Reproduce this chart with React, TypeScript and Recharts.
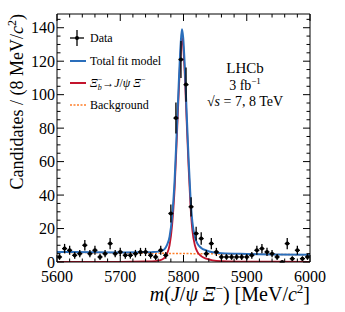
import { ComposedChart, Line, Scatter, ErrorBar, XAxis, YAxis } from "recharts";

// binned data (8 MeV bins)
const binCenters = [
  5604, 5612, 5620, 5628, 5636, 5644, 5652, 5660, 5668, 5676,
  5684, 5692, 5700, 5708, 5716, 5724, 5732, 5740, 5748, 5756,
  5764, 5772, 5780, 5788, 5796, 5804, 5812, 5820, 5828, 5836,
  5844, 5852, 5860, 5868, 5876, 5884, 5892, 5900, 5908, 5916,
  5924, 5932, 5940, 5948, 5956, 5964, 5972, 5980, 5988, 5996,
];
const counts = [
  3, 8, 7, 4, 5, 10, 5, 7, 3, 5,
  11, 5, 6, 4, 4, 5, 6, 6, 4, 3,
  7, 4, 29, 86, 121, 106, 33, 17, 14, 5,
  11, 6, 3, 3, 3, 3, 3, 3, 4, 7,
  8, 6, 5, 3, 0, 11, 2, 7, 2, 3,
];

// fit curves
const curveX = [
  5600, 5700, 5740, 5750, 5760, 5766, 5770, 5774, 5778, 5782, 5786, 5790, 5793, 5795.5,
  5797.5, 5799.5, 5802, 5805, 5808, 5811, 5814, 5818, 5822, 5828, 5836, 5846, 5860, 5900, 6000,
];
const signalY = [
  0, 0.1, 0.3, 0.4, 0.8, 1.5, 2.5, 5, 10, 22, 44, 79, 106, 125,
  134, 129, 112, 84, 57, 34, 19, 10, 6, 3.5, 2, 1, 0.5, 0.2, 0.1,
];
const totalY = [
  6.0, 5.7, 5.8, 5.9, 6.2, 6.8, 7.7, 10.2, 15.1, 27.1, 49.1, 84.1, 111.1, 130.1,
  139.1, 134.1, 117.1, 89.1, 62.0, 39.0, 24.0, 15.0, 11.0, 8.4, 6.9, 5.8, 5.2, 4.8, 4.4,
];
const bgX = [5600, 6000];
const bgY = [5.8, 4.3];

const xTicks = [
  5600, 5620, 5640, 5660, 5680, 5700, 5720, 5740, 5760, 5780, 5800, 5820, 5840, 5860, 5880,
  5900, 5920, 5940, 5960, 5980, 6000,
];
const yTicks = [
  0, 5, 10, 15, 20, 25, 30, 35, 40, 45, 50, 55, 60, 65, 70, 75, 80, 85, 90, 95, 100, 105,
  110, 115, 120, 125, 130, 135, 140, 145,
];

const W = 345;
const H = 312;
const FONT = "'Liberation Serif', 'DejaVu Serif', serif";
const BLUE = "#2a6ebb";
const RED = "#c3142d";
const ORANGE = "#ff7f2a";

const points = binCenters.map((x, i) => ({
  x,
  y: counts[i],
  err: Math.sqrt(counts[i]),
  xerr: 4,
}));
const signal = curveX.map((x, i) => ({ x, y: signalY[i] }));
const total = curveX.map((x, i) => ({ x, y: totalY[i] }));
const background = bgX.map((x, i) => ({ x, y: bgY[i] }));

type TickProps = { x?: number; y?: number; payload?: { value?: number } };

function BottomTick({ x = 0, y = 0, payload }: TickProps) {
  const v = payload?.value ?? 0;
  const major = v % 100 === 0;
  return (
    <g>
      <line x1={x} y1={y} x2={x} y2={y - (major ? 7 : 3.5)} stroke="#000" strokeWidth={1} />
      {major && (
        <text x={x} y={y + 20} textAnchor="middle" fontFamily={FONT} fontSize={16} fill="#000">
          {v}
        </text>
      )}
    </g>
  );
}

function TopTick({ x = 0, y = 0, payload }: TickProps) {
  const v = payload?.value ?? 0;
  const major = v % 100 === 0;
  return <line x1={x} y1={y} x2={x} y2={y + (major ? 7 : 3.5)} stroke="#000" strokeWidth={1} />;
}

function LeftTick({ x = 0, y = 0, payload }: TickProps) {
  const v = payload?.value ?? 0;
  const major = v % 20 === 0;
  return (
    <g>
      <line x1={x} y1={y} x2={x + (major ? 7 : 3.5)} y2={y} stroke="#000" strokeWidth={1} />
      {major && (
        <text x={x - 2} y={y + 5.5} textAnchor="end" fontFamily={FONT} fontSize={16} fill="#000">
          {v}
        </text>
      )}
    </g>
  );
}

function RightTick({ x = 0, y = 0, payload }: TickProps) {
  const v = payload?.value ?? 0;
  const major = v % 20 === 0;
  return <line x1={x} y1={y} x2={x - (major ? 7 : 3.5)} y2={y} stroke="#000" strokeWidth={1} />;
}

function DataPoint(props: { cx?: number; cy?: number }) {
  const { cx = 0, cy = 0 } = props;
  return <circle cx={cx} cy={cy} r={2} fill="#000" />;
}

function Overlay() {
  return (
    <svg
      width={W}
      height={H}
      style={{ position: "absolute", left: 0, top: 0, pointerEvents: "none" }}
      fontFamily={FONT}
    >
      {/* legend */}
      <line x1={70} y1={38} x2={84} y2={38} stroke="#000" strokeWidth={1.3} />
      <line x1={77} y1={30} x2={77} y2={46} stroke="#000" strokeWidth={1.3} />
      <circle cx={77} cy={38} r={2} fill="#000" />
      <text x={90} y={42} fontSize={12}>Data</text>

      <line x1={70} y1={61} x2={86} y2={61} stroke={BLUE} strokeWidth={2} />
      <text x={90} y={65} fontSize={12}>Total fit model</text>

      <line x1={70} y1={83} x2={86} y2={83} stroke={RED} strokeWidth={2} />
      <text x={90} y={87} fontSize={12}>
        <tspan fontStyle="italic">Ξ</tspan>
        <tspan fontSize={8} dy={3} fontStyle="italic">b</tspan>
        <tspan fontSize={8} dx={-4} dy={-8}>−</tspan>
        <tspan dy={5}>→</tspan>
        <tspan fontStyle="italic">J</tspan>
        <tspan>/</tspan>
        <tspan fontStyle="italic">ψ Ξ</tspan>
        <tspan fontSize={8} dy={-5}>−</tspan>
      </text>

      <line x1={70} y1={105} x2={86} y2={105} stroke={ORANGE} strokeWidth={1.5} strokeDasharray="2 1.5" />
      <text x={90} y={109} fontSize={12}>Background</text>

      {/* experiment label */}
      <text x={245} y={73} fontSize={15} textAnchor="middle">LHCb</text>
      <text x={245} y={90} fontSize={14} textAnchor="middle">
        3 fb<tspan fontSize={9} dy={-6}>−1</tspan>
      </text>
      <text x={245} y={106} fontSize={14} textAnchor="middle">
        √<tspan fontStyle="italic">s</tspan> = 7, 8 TeV
      </text>

      {/* axis titles */}
      <text x={310} y={301} fontSize={20} textAnchor="end">
        <tspan fontStyle="italic">m</tspan>(<tspan fontStyle="italic">J</tspan>/
        <tspan fontStyle="italic">ψ Ξ</tspan>
        <tspan fontSize={13} dy={-8}>−</tspan>
        <tspan dy={8}>) [MeV/</tspan>
        <tspan fontStyle="italic">c</tspan>
        <tspan fontSize={13} dy={-8}>2</tspan>
        <tspan dy={8}>]</tspan>
      </text>
      <text x={0} y={0} fontSize={18} textAnchor="end" transform="translate(23,14) rotate(-90)">
        Candidates / (8 MeV/<tspan fontStyle="italic">c</tspan>
        <tspan fontSize={12} dy={-7}>2</tspan>
        <tspan dy={7}>)</tspan>
      </text>
    </svg>
  );
}

export default function App() {
  return (
    <div style={{ position: "absolute", left: 0, top: 0, width: W, height: H, background: "#fff" }}>
      <ComposedChart width={W} height={H} margin={{ top: 0, right: 0, bottom: 0, left: 0 }}>
        <XAxis
          xAxisId="b"
          dataKey="x"
          type="number"
          domain={[5600, 6000]}
          ticks={xTicks}
          interval={0}
          allowDataOverflow
          height={50}
          tickSize={0}
          tickMargin={0}
          tick={<BottomTick />}
          axisLine={{ stroke: "#000", strokeWidth: 1 }}
        />
        <XAxis
          xAxisId="t"
          orientation="top"
          dataKey="x"
          type="number"
          domain={[5600, 6000]}
          ticks={xTicks}
          interval={0}
          allowDataOverflow
          height={14}
          tickSize={0}
          tickMargin={0}
          tick={<TopTick />}
          axisLine={{ stroke: "#000", strokeWidth: 1 }}
        />
        <YAxis
          yAxisId="l"
          dataKey="y"
          type="number"
          domain={[0, 148.2]}
          ticks={yTicks}
          interval={0}
          allowDataOverflow
          width={57}
          tickSize={0}
          tickMargin={0}
          tick={<LeftTick />}
          axisLine={{ stroke: "#000", strokeWidth: 1 }}
        />
        <YAxis
          yAxisId="r"
          orientation="right"
          dataKey="y"
          type="number"
          domain={[0, 148.2]}
          ticks={yTicks}
          interval={0}
          allowDataOverflow
          width={35}
          tickSize={0}
          tickMargin={0}
          tick={<RightTick />}
          axisLine={{ stroke: "#000", strokeWidth: 1 }}
        />
        <Line
          xAxisId="b"
          yAxisId="l"
          data={background}
          dataKey="y"
          type="linear"
          stroke={ORANGE}
          strokeWidth={1.5}
          strokeDasharray="2 1.5"
          dot={false}
          activeDot={false}
          isAnimationActive={false}
        />
        <Line
          xAxisId="b"
          yAxisId="l"
          data={signal}
          dataKey="y"
          type="monotone"
          stroke={RED}
          strokeWidth={1.8}
          dot={false}
          activeDot={false}
          isAnimationActive={false}
        />
        <Line
          xAxisId="b"
          yAxisId="l"
          data={total}
          dataKey="y"
          type="monotone"
          stroke={BLUE}
          strokeWidth={2}
          dot={false}
          activeDot={false}
          isAnimationActive={false}
        />
        <Scatter
          xAxisId="b"
          yAxisId="l"
          data={points}
          dataKey="y"
          shape={<DataPoint />}
          isAnimationActive={false}
        >
          <ErrorBar dataKey="err" direction="y" width={0} stroke="#000" strokeWidth={1.3} />
          <ErrorBar dataKey="xerr" direction="x" width={0} stroke="#000" strokeWidth={1.3} />
        </Scatter>
      </ComposedChart>
      <Overlay />
    </div>
  );
}
